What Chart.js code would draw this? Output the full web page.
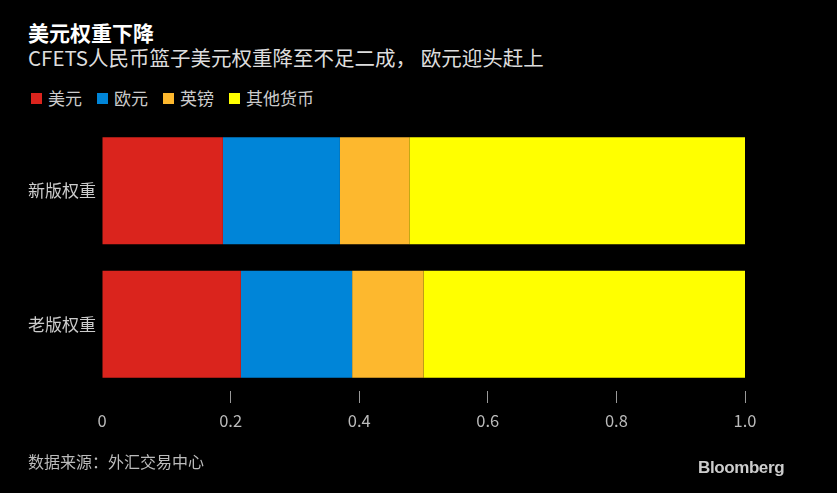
<!DOCTYPE html>
<html>
<head>
<meta charset="utf-8">
<script src="https://cdn.jsdelivr.net/npm/chart.js@4"></script>
<style>
  html, body { margin: 0; padding: 0; background: #000; }
  body { width: 837px; height: 493px; position: relative; overflow: hidden;
         font-family: "Noto Sans CJK SC", "Noto Sans", sans-serif; }
  #chart { position: absolute; left: 0; top: 0; }
  .title { position: absolute; left: 28px; top: 18px; color: #fff; font-size: 21px; font-weight: bold; line-height: 28px; }
  .subtitle { position: absolute; left: 28px; top: 43px; color: #ddd; font-size: 20.5px; line-height: 28px; }
  #legend { position: absolute; left: 31px; top: 87px; display: flex; color: #ccc; font-size: 17px; line-height: 22px; }
  #legend .item { display: flex; align-items: center; margin-right: 15px; }
  #legend .box { width: 11px; height: 11px; margin-right: 6px; }
  .source { position: absolute; left: 28px; top: 449px; color: #bbb; font-size: 16px; line-height: 24px; }
  .brand { position: absolute; left: 698px; top: 457px; color: #ccc; font-size: 17px; font-weight: bold;
           font-family: "Liberation Sans", Arial, sans-serif; letter-spacing: -0.4px; line-height: 22px; }
</style>
</head>
<body>
<div class="title">美元权重下降</div>
<div class="subtitle">CFETS人民币篮子美元权重降至不足二成， 欧元迎头赶上</div>
<div id="legend"></div>
<canvas id="chart" width="837" height="493"></canvas>
<div class="source">数据来源：外汇交易中心</div>
<div class="brand">Bloomberg</div>
<script>
  // data
  const categories = ["新版权重", "老版权重"];
  const seriesNames = ["美元", "欧元", "英镑", "其他货币"];
  const usd = [0.188, 0.216];
  const eur = [0.182, 0.173];
  const gbp = [0.108, 0.111];
  const other = [0.522, 0.500];
  const xTicks = [0, 0.2, 0.4, 0.6, 0.8, 1.0];

  const colors = ["#da241d", "#0085d8", "#fdb82e", "#ffff00"];
  const values = [usd, eur, gbp, other];

  const legend = document.getElementById("legend");
  seriesNames.forEach(function (name, i) {
    const item = document.createElement("div");
    item.className = "item";
    item.innerHTML = '<span class="box" style="background:' + colors[i] + '"></span><span>' + name + "</span>";
    legend.appendChild(item);
  });

  const font = "'Noto Sans CJK SC', 'Noto Sans', sans-serif";

  new Chart(document.getElementById("chart").getContext("2d"), {
    type: "bar",
    data: {
      labels: categories,
      datasets: seriesNames.map(function (name, i) {
        return {
          label: name,
          data: values[i],
          backgroundColor: colors[i],
          borderWidth: 0,
          categoryPercentage: 1,
          barPercentage: 0.8,
        };
      }),
    },
    options: {
      indexAxis: "y",
      responsive: false,
      animation: false,
      layout: { padding: { left: 0, right: 92, top: 124, bottom: 62 } },
      plugins: { legend: { display: false }, tooltip: { enabled: false } },
      scales: {
        x: {
          stacked: true,
          min: 0,
          max: 1,
          afterBuildTicks: function (scale) {
            scale.ticks = xTicks.map(function (v) { return { value: v }; });
          },
          afterFit: function (scale) { scale.height = 40; },
          border: { display: false },
          grid: {
            drawOnChartArea: false,
            tickLength: 12,
            color: function (ctx) { return ctx.tick && ctx.tick.value === 0 ? "rgba(0,0,0,0)" : "#999"; },
          },
          ticks: {
            color: "#bbb",
            padding: 8,
            font: { family: font, size: 16.5 },
            callback: function (v) { return v === 0 ? "0" : v === 1 ? "1.0" : String(v); },
          },
        },
        y: {
          stacked: true,
          afterFit: function (scale) { scale.width = 102; },
          border: { display: false },
          grid: { display: false, drawTicks: false },
          ticks: { color: "#ccc", padding: 6, font: { family: font, size: 17 } },
        },
      },
    },
  });
</script>
</body>
</html>
